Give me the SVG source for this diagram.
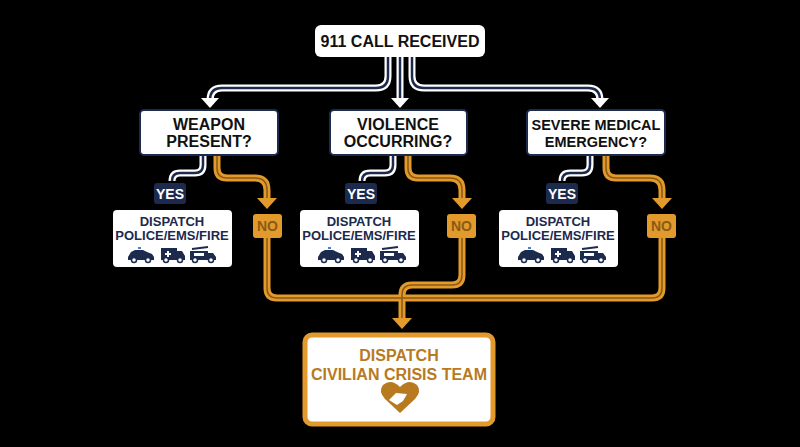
<svg xmlns="http://www.w3.org/2000/svg" width="800" height="447" viewBox="0 0 800 447">
<defs>
<style>
.box{fill:#fff;stroke:#1c2a4d;stroke-width:2}
.t{font-family:"Liberation Sans",Arial,sans-serif;font-weight:bold;text-anchor:middle}
.q{font-size:16px;fill:#111}
.d{font-size:13px;fill:#1c2a4d}
.wo{fill:none;stroke:#fff;stroke-width:7}
.wi{fill:none;stroke:#1c2a4d;stroke-width:2.5}
.oo{fill:none;stroke:#e39a2d;stroke-width:7}
.oi{fill:none;stroke:#8a5a14;stroke-width:1.5}
.ic{fill:#1c2a4d}
</style>
<g id="car"><path class="ic" d="M0 10 L3 5 L7 3 L15 3 L19 5 L24 7 L26 10 L26 13 L0 13Z"/><circle cx="6" cy="13" r="2.5" fill="#fff" stroke="#1c2a4d" stroke-width="1.5"/><circle cx="20" cy="13" r="2.5" fill="#fff" stroke="#1c2a4d" stroke-width="1.5"/><rect x="10" y="0" width="3" height="2" fill="#4a7fd0"/></g>
<g id="amb"><path class="ic" d="M0 1 L16 1 L16 4 L21 4 L24 9 L24 13 L0 13Z"/><path d="M6 4h2v2h2v2h-2v2h-2v-2h-2v-2h2z" fill="#fff"/><circle cx="5" cy="13" r="2.5" fill="#fff" stroke="#1c2a4d" stroke-width="1.5"/><circle cx="19" cy="13" r="2.5" fill="#fff" stroke="#1c2a4d" stroke-width="1.5"/></g>
<g id="fire"><path class="ic" d="M0 4 L18 4 L18 6 L23 6 L26 10 L26 13 L0 13Z"/><path d="M2 2 L18 0" stroke="#1c2a4d" stroke-width="2"/><rect x="4" y="6" width="10" height="3" fill="#fff"/><circle cx="5" cy="13" r="2.5" fill="#fff" stroke="#1c2a4d" stroke-width="1.5"/><circle cx="21" cy="13" r="2.5" fill="#fff" stroke="#1c2a4d" stroke-width="1.5"/></g>
<g id="arrW"><path d="M-9 -10 L9 -10 L0 0Z" fill="#fff"/></g>
<g id="arrO"><path d="M-10 -11 L10 -11 L0 0Z" fill="#e39a2d"/></g>
</defs>
<rect width="800" height="447" fill="#000"/>
<g id="connectors">
<path class="wo" d="M388 57 V76 Q388 88 376 88 H222 Q210 88 210 100"/>
<path class="wi" d="M388 57 V76 Q388 88 376 88 H222 Q210 88 210 100"/>
<path class="wo" d="M400 57 V98"/><path class="wi" d="M400 57 V98"/>
<path class="wo" d="M412 57 V76 Q412 88 424 88 H588 Q600 88 600 100"/>
<path class="wi" d="M412 57 V76 Q412 88 424 88 H588 Q600 88 600 100"/>
<use href="#arrW" x="210" y="108"/><use href="#arrW" x="400" y="108"/><use href="#arrW" x="600" y="108"/>
<path class="wo" d="M203 155 V165 Q203 173 195 173 H180 Q172 173 172 181"/><path class="wi" d="M203 155 V165 Q203 173 195 173 H180 Q172 173 172 181"/>
<path class="wo" d="M393 155 V165 Q393 173 385 173 H370 Q362 173 362 181"/><path class="wi" d="M393 155 V165 Q393 173 385 173 H370 Q362 173 362 181"/>
<path class="wo" d="M590 155 V165 Q590 173 582 173 H570 Q562 173 562 181"/><path class="wi" d="M590 155 V165 Q590 173 582 173 H570 Q562 173 562 181"/>
<path class="oo" d="M217 155 V168 Q217 178 227 178 H255 Q267 178 267 190 V198"/><path class="oi" d="M217 155 V168 Q217 178 227 178 H255 Q267 178 267 190 V198"/>
<path class="oo" d="M408 155 V168 Q408 178 418 178 H450 Q462 178 462 190 V198"/><path class="oi" d="M408 155 V168 Q408 178 418 178 H450 Q462 178 462 190 V198"/>
<path class="oo" d="M606 155 V168 Q606 178 616 178 H650 Q662 178 662 190 V198"/><path class="oi" d="M606 155 V168 Q606 178 616 178 H650 Q662 178 662 190 V198"/>
<use href="#arrO" x="267" y="209"/><use href="#arrO" x="462" y="209"/><use href="#arrO" x="662" y="209"/>
<path class="oo" d="M267 238 V288 Q267 298 277 298 H652 Q662 298 662 288 V238 M462 238 V275 Q462 285 452 285 H412 Q402 285 402 295 V318"/>
<path class="oi" d="M267 238 V288 Q267 298 277 298 H652 Q662 298 662 288 V238 M462 238 V275 Q462 285 452 285 H412 Q402 285 402 295 V318"/>
<use href="#arrO" x="402" y="329"/>
</g>
<g id="top"><rect x="315" y="25" width="170" height="32" rx="6" fill="#fff"/><text class="t q" x="400" y="47">911 CALL RECEIVED</text></g>
<g id="q1"><rect class="box" x="140" y="110" width="138" height="45" rx="4"/><text class="t q" x="209" y="130">WEAPON</text><text class="t q" x="209" y="147">PRESENT?</text></g>
<g id="q2"><rect class="box" x="330" y="110" width="137" height="45" rx="4"/><text class="t q" x="398" y="130">VIOLENCE</text><text class="t q" x="398" y="147">OCCURRING?</text></g>
<g id="q3"><rect class="box" x="527" y="110" width="138" height="45" rx="4"/><text class="t q" x="596" y="130" style="font-size:14.5px">SEVERE MEDICAL</text><text class="t q" x="596" y="147" style="font-size:14.5px">EMERGENCY?</text></g>
<g id="yesLabels">
<rect x="154" y="183" width="32" height="21" rx="3" fill="#1c2a4d"/><text class="t" x="170" y="199" font-size="14" fill="#fff">YES</text>
<rect x="345" y="183" width="32" height="21" rx="3" fill="#1c2a4d"/><text class="t" x="361" y="199" font-size="14" fill="#fff">YES</text>
<rect x="546" y="183" width="32" height="21" rx="3" fill="#1c2a4d"/><text class="t" x="562" y="199" font-size="14" fill="#fff">YES</text>
</g>
<g id="noLabels">
<rect x="253" y="214" width="29" height="24" rx="3" fill="#e39a2d"/><text class="t" x="267.5" y="231" font-size="14" fill="#8a5a14">NO</text>
<rect x="447" y="214" width="29" height="24" rx="3" fill="#e39a2d"/><text class="t" x="461.5" y="231" font-size="14" fill="#8a5a14">NO</text>
<rect x="647" y="214" width="29" height="24" rx="3" fill="#e39a2d"/><text class="t" x="661.5" y="231" font-size="14" fill="#8a5a14">NO</text>
</g>
<g id="d1"><rect x="113" y="210" width="119" height="57" rx="4" fill="#fff"/><text class="t d" x="172" y="226">DISPATCH</text><text class="t d" x="172" y="240">POLICE/EMS/FIRE</text><use href="#car" x="128" y="247"/><use href="#amb" x="161" y="247"/><use href="#fire" x="190" y="247"/></g>
<g id="d2"><rect x="300" y="210" width="119" height="57" rx="4" fill="#fff"/><text class="t d" x="359" y="226">DISPATCH</text><text class="t d" x="359" y="240">POLICE/EMS/FIRE</text><use href="#car" x="318" y="247"/><use href="#amb" x="351" y="247"/><use href="#fire" x="380" y="247"/></g>
<g id="d3"><rect x="499" y="210" width="119" height="57" rx="4" fill="#fff"/><text class="t d" x="558" y="226">DISPATCH</text><text class="t d" x="558" y="240">POLICE/EMS/FIRE</text><use href="#car" x="518" y="247"/><use href="#amb" x="551" y="247"/><use href="#fire" x="580" y="247"/></g>
<g id="crisis"><rect x="305" y="335" width="188" height="89" rx="7" fill="#fff" stroke="#e39a2d" stroke-width="5"/>
<text class="t" x="399" y="361" font-size="16" fill="#b87a1e">DISPATCH</text><text class="t" x="399" y="380" font-size="16" fill="#b87a1e">CIVILIAN CRISIS TEAM</text>
<path d="M400 413 L385 399 Q378 391 383 385 Q391 378 400 387 Q409 378 417 385 Q422 391 415 399 Z" fill="#b87a1e"/>
<path d="M389 400 L396 393 L407 394 L403 401 L397 405Z" fill="#fff"/></g>
</svg>
